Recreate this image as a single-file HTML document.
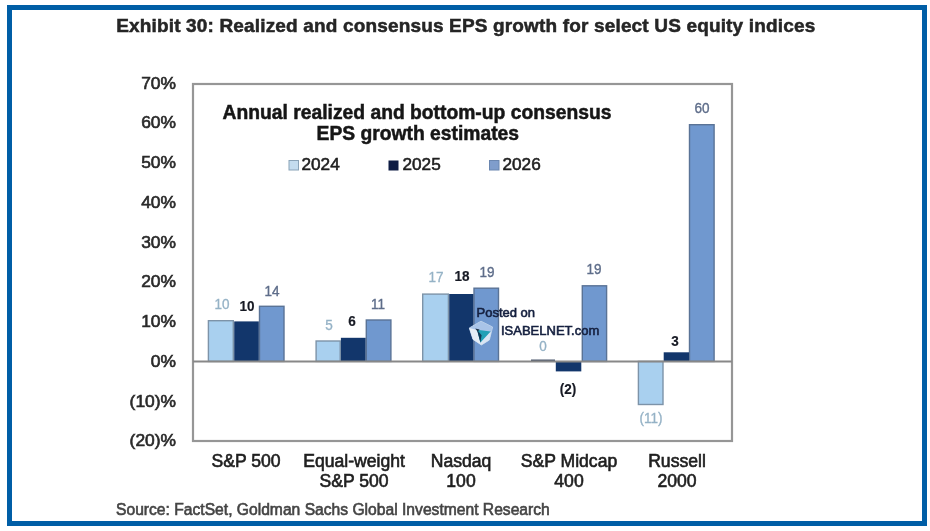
<!DOCTYPE html>
<html>
<head>
<meta charset="utf-8">
<title>Exhibit 30</title>
<style>
html,body{margin:0;padding:0;}
body{width:930px;height:531px;background:#ffffff;position:relative;overflow:hidden;
  font-family:"Liberation Sans",sans-serif;color:#222;}
.frame{position:absolute;left:7px;top:5px;width:910px;height:511px;border:5px solid #005ea6;}
.t{position:absolute;white-space:nowrap;}
.title{left:116.2px;top:13.6px;height:24px;line-height:24px;font-size:19px;font-weight:bold;color:#262626;letter-spacing:0.16px;-webkit-text-stroke:0.5px #222;}
.src{left:116px;top:500px;height:20px;line-height:20px;font-size:15.65px;color:#444;-webkit-text-stroke:0.6px #444;}
.yl{width:60px;left:116px;text-align:right;font-size:17.4px;height:20px;line-height:20px;color:#2a2a2a;-webkit-text-stroke:0.65px #2a2a2a;}
.ct{left:192px;width:450px;text-align:center;font-size:19.3px;font-weight:bold;line-height:22px;height:22px;color:#161616;-webkit-text-stroke:0.5px #161616;}
.lg{font-size:17.2px;height:20px;line-height:20px;color:#202020;-webkit-text-stroke:0.55px #202020;}
.xl{font-size:17.6px;height:20px;line-height:20px;text-align:center;width:120px;color:#202020;-webkit-text-stroke:0.6px #202020;}
.dl{font-size:15px;height:16px;line-height:16px;width:40px;text-align:center;transform:scaleX(0.9);transform-origin:50% 50%;}
.c1{color:#95b2c6;-webkit-text-stroke:0.35px #95b2c6;}
.c2{color:#171a24;font-weight:bold;-webkit-text-stroke:0.2px #171a24;}
.c3{color:#5e6d8a;-webkit-text-stroke:0.4px #5e6d8a;}
.wm{font-size:13px;height:16px;line-height:16px;color:#15203f;-webkit-text-stroke:0.6px #15203f;}
svg{position:absolute;left:0;top:0;}
#chart{position:absolute;left:0;top:0;width:930px;height:531px;filter:blur(0.6px);}
</style>
</head>
<body>
<div id="chart">

<div class="t title">Exhibit 30: Realized and consensus EPS growth for select US equity indices</div>

<svg width="930" height="531" viewBox="0 0 930 531">
  <!-- plot frame -->
  <rect x="193" y="84" width="539" height="357" fill="none" stroke="#969696" stroke-width="2.2"/>
  <!-- bars -->
  <g stroke-width="1.4">
    <!-- S&P 500 -->
    <rect x="208.4" y="320.7" width="24.9" height="40.7" fill="#a9d0ef" stroke="#7d93a8"/>
    <rect x="259.5" y="306.3" width="24.5" height="55.1" fill="#7098cf" stroke="#5a7396"/>
    <rect x="234.2" y="321.4" width="24.6" height="40.0" fill="#12366b" stroke="none"/>
    <!-- Equal-weight -->
    <rect x="316.1" y="341.0" width="24.1" height="20.4" fill="#a9d0ef" stroke="#7d93a8"/>
    <rect x="366.3" y="320.0" width="24.6" height="41.4" fill="#7098cf" stroke="#5a7396"/>
    <rect x="340.9" y="337.8" width="24.7" height="23.6" fill="#12366b" stroke="none"/>
    <!-- Nasdaq 100 -->
    <rect x="422.7" y="294.1" width="25.7" height="67.3" fill="#a9d0ef" stroke="#7d93a8"/>
    <rect x="474.0" y="288.2" width="24.5" height="73.2" fill="#7098cf" stroke="#5a7396"/>
    <rect x="449.2" y="294.0" width="24.2" height="67.4" fill="#12366b" stroke="none"/>
    <!-- S&P Midcap 400 -->
    <rect x="531" y="359.6" width="24" height="1.2" fill="#1c2c48" stroke="none"/>
    <rect x="582.3" y="285.8" width="24.3" height="75.6" fill="#7098cf" stroke="#5a7396"/>
    <rect x="555.8" y="361.4" width="25.5" height="10.0" fill="#12366b" stroke="none"/>
    <!-- Russell 2000 -->
    <rect x="638.4" y="361.4" width="24.6" height="43.1" fill="#a9d0ef" stroke="#7d93a8"/>
    <rect x="689.5" y="124.7" width="24.6" height="236.7" fill="#7098cf" stroke="#5a7396"/>
    <rect x="663.7" y="352.3" width="25.3" height="9.1" fill="#12366b" stroke="none"/>
  </g>
  <!-- zero line -->
  <line x1="193" y1="361.6" x2="732" y2="361.6" stroke="#888888" stroke-width="2"/>
  <!-- legend swatches -->
  <rect x="289" y="160.5" width="9.5" height="9.5" fill="#c4dcef" stroke="#8aa3b8" stroke-width="1"/>
  <rect x="388.5" y="160.5" width="10" height="10" fill="#0e1c44"/>
  <rect x="489.5" y="160.5" width="9.5" height="9.5" fill="#7f9dcc" stroke="#6a86b0" stroke-width="1"/>
  <!-- watermark icon -->
  <g stroke-linejoin="round">
    <path d="M469.3 328 L481 321.2 L492.6 327 L489.4 340 L481.4 345 L473 339.4 Z" fill="#a9c4e8" stroke="#b9cfea" stroke-width="1"/>
    <path d="M469.3 328 L477.2 330 L480.4 342.4 L481.4 345 L473 339.4 Z" fill="#e6eef6"/>
    <path d="M491.2 332 L489.4 340 L481.4 345 L480.4 342.4 L488.6 333.2 Z" fill="#d9e5f3"/>
    <path d="M477 329.8 L490.6 331.6 L480.4 342.6 Z" fill="#21a0b6"/>
    <path d="M477 329.8 L481.6 335.2 L480.4 342.6 Z" fill="#123a56"/>
    <path d="M475.2 328.6 L479.6 329.6 L477.6 331.4 Z" fill="#1b2f45"/>
  </g>
</svg>

<!-- y axis labels -->
<div class="t yl" style="top:72.7px">70%</div>
<div class="t yl" style="top:112.4px">60%</div>
<div class="t yl" style="top:152.2px">50%</div>
<div class="t yl" style="top:191.9px">40%</div>
<div class="t yl" style="top:231.7px">30%</div>
<div class="t yl" style="top:271.4px">20%</div>
<div class="t yl" style="top:311.1px">10%</div>
<div class="t yl" style="top:350.9px">0%</div>
<div class="t yl" style="top:390.6px">(10)%</div>
<div class="t yl" style="top:430.4px">(20)%</div>

<!-- chart title -->
<div class="t ct" style="top:101.7px">Annual realized and bottom-up consensus</div>
<div class="t ct" style="top:123.3px;left:192.8px">EPS growth estimates</div>

<!-- legend -->
<div class="t lg" style="left:301.5px;top:154px">2024</div>
<div class="t lg" style="left:402.5px;top:154px">2025</div>
<div class="t lg" style="left:502.5px;top:154px">2026</div>

<!-- data labels -->
<div class="t dl c1" style="left:202.2px;top:296px">10</div>
<div class="t dl c2" style="left:226.9px;top:298.4px">10</div>
<div class="t dl c3" style="left:252.1px;top:282.8px">14</div>

<div class="t dl c1" style="left:308.5px;top:317px">5</div>
<div class="t dl c2" style="left:332.4px;top:313.2px">6</div>
<div class="t dl c3" style="left:358px;top:295.5px">11</div>

<div class="t dl c1" style="left:416.3px;top:269.2px">17</div>
<div class="t dl c2" style="left:441.8px;top:268.3px">18</div>
<div class="t dl c3" style="left:467.2px;top:263.9px">19</div>

<div class="t dl c1" style="left:523.3px;top:337.9px">0</div>
<div class="t dl c2" style="left:547.6px;top:380.6px">(2)</div>
<div class="t dl c3" style="left:574.2px;top:261.3px">19</div>

<div class="t dl c1" style="left:631.2px;top:410.2px">(11)</div>
<div class="t dl c2" style="left:654.5px;top:333px">3</div>
<div class="t dl c3" style="left:682px;top:99.5px">60</div>

<!-- watermark -->
<div class="t wm" style="left:476.5px;top:305px">Posted on</div>
<div class="t wm" style="left:501px;top:323.2px">ISABELNET.com</div>

<!-- x labels -->
<div class="t xl" style="left:186px;top:451px">S&amp;P 500</div>
<div class="t xl" style="left:294px;top:451px">Equal-weight</div>
<div class="t xl" style="left:294px;top:471px">S&amp;P 500</div>
<div class="t xl" style="left:401px;top:451px">Nasdaq</div>
<div class="t xl" style="left:401px;top:471px">100</div>
<div class="t xl" style="left:509px;top:451px">S&amp;P Midcap</div>
<div class="t xl" style="left:509px;top:471px">400</div>
<div class="t xl" style="left:617px;top:451px">Russell</div>
<div class="t xl" style="left:617px;top:471px">2000</div>

<div class="t src">Source: FactSet, Goldman Sachs Global Investment Research</div>
</div>
<div class="frame"></div>
</body>
</html>
